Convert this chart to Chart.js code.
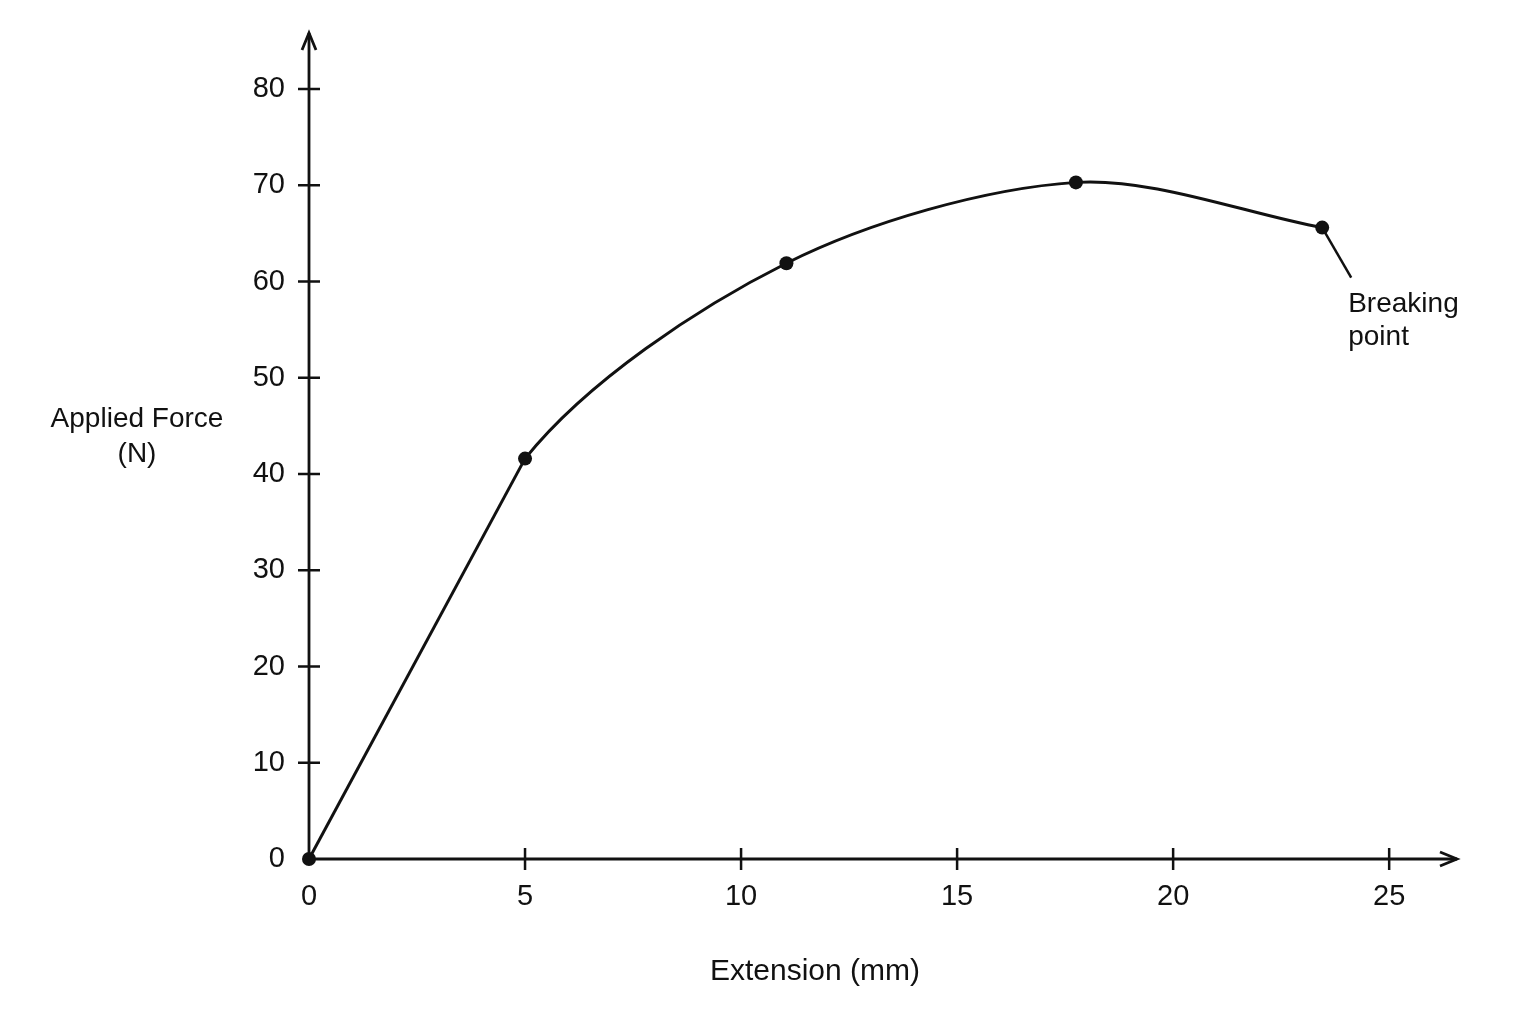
<!DOCTYPE html>
<html>
<head>
<meta charset="utf-8">
<script src="https://cdn.jsdelivr.net/npm/chart.js@4/dist/chart.umd.min.js"></script>
<style>
  html, body { margin: 0; padding: 0; background: #ffffff; }
  #wrap { width: 1536px; height: 1024px; position: relative; }
</style>
</head>
<body>
<div id="wrap"><canvas id="c"></canvas></div>
<script>
// ---- data ----
const extension = [0, 5.0, 11.05, 17.75, 23.45];     // mm
const force     = [0, 41.6, 61.9, 70.3, 65.6];        // N
const xTicks = [0, 5, 10, 15, 20, 25];
const yTicks = [0, 10, 20, 30, 40, 50, 60, 70, 80];
const xTitle = 'Extension (mm)';
const yTitle = ['Applied Force', '(N)'];
const noteText = ['Breaking', 'point'];

const INK = '#111111';
const FONT = '"Liberation Sans", Arial, Helvetica, sans-serif';

const allPoints = extension.map((x, i) => ({ x, y: force[i] }));
const elastic = allPoints.slice(0, 2);

const axesPlugin = {
  id: 'axesPlugin',
  beforeDatasetsDraw(chart) {
    const ctx = chart.ctx, xs = chart.scales.x, ys = chart.scales.y;
    const x0 = xs.getPixelForValue(0), y0 = ys.getPixelForValue(0);
    const xEnd = chart.chartArea.right, yEnd = chart.chartArea.top;
    ctx.save();
    ctx.strokeStyle = INK; ctx.lineCap = 'butt';
    ctx.lineWidth = 2.8;
    ctx.beginPath();
    ctx.moveTo(x0, y0); ctx.lineTo(xEnd, y0);
    ctx.moveTo(x0, y0); ctx.lineTo(x0, yEnd);
    ctx.stroke();
    // arrowheads
    ctx.lineJoin = 'miter';
    ctx.beginPath();
    ctx.moveTo(xEnd - 17, y0 - 7); ctx.lineTo(xEnd, y0); ctx.lineTo(xEnd - 17, y0 + 7);
    ctx.moveTo(x0 - 7, yEnd + 17); ctx.lineTo(x0, yEnd); ctx.lineTo(x0 + 7, yEnd + 17);
    ctx.stroke();
    // crossing tick marks
    ctx.lineWidth = 2.5;
    ctx.beginPath();
    xTicks.forEach(v => { if (v === 0) return; const p = xs.getPixelForValue(v); ctx.moveTo(p, y0 - 11); ctx.lineTo(p, y0 + 11); });
    yTicks.forEach(v => { if (v === 0) return; const p = ys.getPixelForValue(v); ctx.moveTo(x0 - 11, p); ctx.lineTo(x0 + 11, p); });
    ctx.stroke();
    ctx.restore();
  },
  afterDraw(chart) {
    const ctx = chart.ctx, xs = chart.scales.x, ys = chart.scales.y;
    ctx.save();
    ctx.fillStyle = INK;
    ctx.textBaseline = 'alphabetic';
    // y title (horizontal, two lines)
    ctx.font = '28px ' + FONT;
    ctx.textAlign = 'center';
    ctx.fillText(yTitle[0], 137, 427);
    ctx.fillText(yTitle[1], 137, 462);
    // x title
    ctx.font = '30px ' + FONT;
    ctx.fillText(xTitle, 815, 980);
    // breaking point note
    const n = extension.length - 1;
    const px = xs.getPixelForValue(extension[n]), py = ys.getPixelForValue(force[n]);
    ctx.strokeStyle = INK; ctx.lineWidth = 2.5;
    ctx.beginPath();
    ctx.moveTo(px, py); ctx.lineTo(px + 29, py + 50);
    ctx.stroke();
    ctx.font = '28px ' + FONT;
    ctx.textAlign = 'left';
    ctx.fillText(noteText[0], px + 26, py + 84);
    ctx.fillText(noteText[1], px + 26, py + 117);
    ctx.restore();
  }
};

const tickFont = { family: FONT, size: 29, lineHeight: 1.2 };

new Chart(document.getElementById('c'), {
  type: 'scatter',
  data: {
    datasets: [
      // straight elastic region (0 -> 5 mm)
      { data: elastic, showLine: true, borderColor: INK, borderWidth: 3, tension: 0,
        pointRadius: 0, clip: false },
      // smooth curve through all points; its first segment is hidden (drawn straight above)
      { data: allPoints, showLine: true, borderColor: INK, borderWidth: 3, tension: 0.31,
        segment: { borderColor: c => (c.p0DataIndex === 0 ? 'rgba(0,0,0,0)' : INK) },
        pointRadius: 7, pointBackgroundColor: INK, pointBorderColor: INK, pointBorderWidth: 0, clip: false }
    ]
  },
  options: {
    responsive: true,
    maintainAspectRatio: false,
    animation: false,
    layout: { autoPadding: false, padding: { top: 33, right: 79, left: 0, bottom: 0 } },
    plugins: { legend: { display: false }, tooltip: { enabled: false }, title: { display: false } },
    scales: {
      x: {
        type: 'linear', position: 'bottom', min: 0, max: 26.57,
        grid: { display: false, drawTicks: false }, border: { display: false },
        afterBuildTicks: s => { s.ticks = xTicks.map(v => ({ value: v })); },
        afterFit: s => { s.height = 165; s.paddingLeft = 0; s.paddingRight = 0; },
        ticks: { color: INK, font: tickFont, padding: 21, maxRotation: 0, autoSkip: false }
      },
      y: {
        type: 'linear', position: 'left', min: 0, max: 85.82,
        grid: { display: false, drawTicks: false }, border: { display: false },
        afterBuildTicks: s => { s.ticks = yTicks.map(v => ({ value: v })); },
        afterFit: s => { s.width = 309; s.paddingTop = 0; s.paddingBottom = 0; },
        ticks: { color: INK, font: tickFont, padding: 24, autoSkip: false }
      }
    }
  },
  plugins: [axesPlugin]
});
</script>
</body>
</html>
